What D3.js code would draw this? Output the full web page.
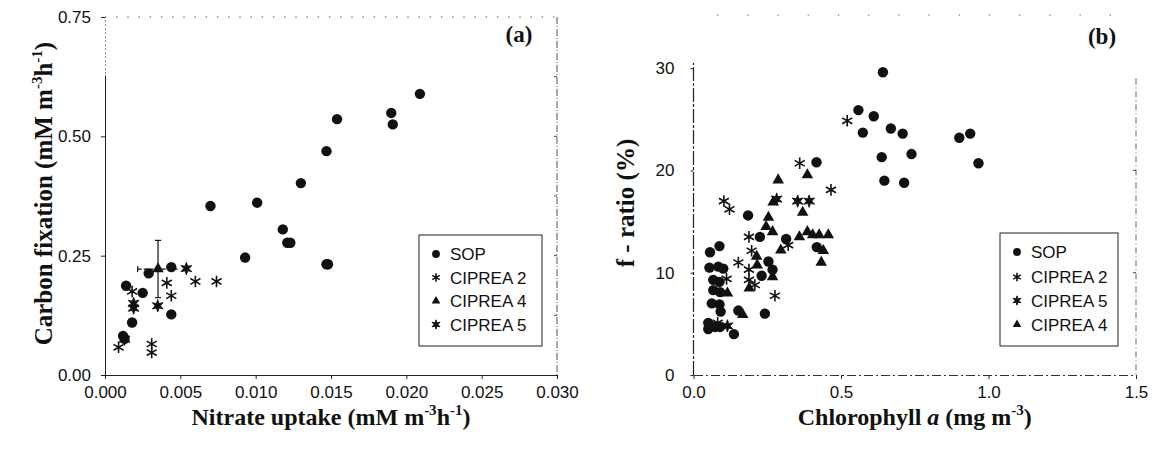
<!DOCTYPE html>
<html>
<head>
<meta charset="utf-8">
<script src="https://cdn.jsdelivr.net/npm/d3@7"></script>
<style>
    body { margin: 0; background: #fff; }
    .tick text { font-family: "Liberation Sans", Arial, sans-serif; font-size: 17px; fill: #111; }
    .title { font-family: "Liberation Serif", "Times New Roman", serif; font-weight: bold; font-size: 24px; fill: #111; }
    .legend text { font-family: "Liberation Sans", Arial, sans-serif; font-size: 17px; fill: #111; }
</style>
</head>
<body>
<svg id="chart" width="1159" height="450"></svg>
<script>

// ---- panel (a): nitrate uptake vs carbon fixation
var sopNitrate = [0.0209, 0.0190, 0.0191, 0.0154, 0.0147, 0.0130, 0.0101, 0.0070, 0.0118, 0.0121, 0.0123,
    0.0093, 0.0147, 0.0148, 0.0044, 0.0029, 0.0014, 0.0025, 0.0044, 0.0018, 0.0012, 0.0013]
var sopCarbon = [0.589, 0.549, 0.525, 0.536, 0.469, 0.402, 0.361, 0.354, 0.305, 0.277, 0.277,
    0.246, 0.232, 0.232, 0.226, 0.213, 0.187, 0.172, 0.127, 0.110, 0.082, 0.076]
var c2Nitrate = [0.0009, 0.0018, 0.0041, 0.0044, 0.0060, 0.0074, 0.0031, 0.0031]
var c2Carbon = [0.058, 0.175, 0.193, 0.166, 0.196, 0.196, 0.065, 0.047]
var c4Nitrate = [0.00352]
var c4Carbon = [0.222]
var c4NitrateErr = [0.00135]
var c4CarbonErr = [0.060]
var c5Nitrate = [0.0054, 0.0019, 0.0019, 0.0035, 0.0013]
var c5Carbon = [0.223, 0.150, 0.140, 0.145, 0.075]

var xTicksA = [0, 0.005, 0.010, 0.015, 0.020, 0.025, 0.030]
var yTicksA = [0, 0.25, 0.50, 0.75]

// ---- panel (b): chlorophyll a vs f-ratio
var sopChl = [0.642, 0.559, 0.611, 0.574, 0.669, 0.709, 0.901, 0.938, 0.638, 0.739, 0.966, 0.647, 0.714, 0.417,
    0.185, 0.225, 0.314, 0.418, 0.088, 0.056, 0.054, 0.084, 0.101, 0.254, 0.268, 0.231, 0.067, 0.088,
    0.067, 0.090, 0.062, 0.088, 0.092, 0.152, 0.242, 0.050, 0.050, 0.073, 0.090, 0.137]
var sopF = [29.6, 25.9, 25.3, 23.7, 24.1, 23.6, 23.2, 23.6, 21.3, 21.6, 20.7, 19.0, 18.8, 20.8,
    15.6, 13.5, 13.3, 12.5, 12.6, 12.0, 10.5, 10.6, 10.4, 11.1, 10.3, 9.7, 9.3, 9.1,
    8.3, 8.1, 7.0, 6.9, 6.2, 6.3, 6.0, 5.1, 4.5, 4.7, 4.7, 4.0]
var c2Chl = [0.521, 0.360, 0.466, 0.103, 0.122, 0.188, 0.197, 0.152, 0.188, 0.188, 0.208, 0.276, 0.321, 0.112, 0.082]
var c2F = [24.85, 20.7, 18.1, 17.0, 16.2, 13.5, 12.15, 11.0, 10.3, 9.3, 8.8, 7.75, 12.7, 9.4, 5.1]
var c5Chl = [0.282, 0.353, 0.392, 0.115]
var c5F = [17.2, 17.0, 17.0, 4.8]
var c4Chl = [0.287, 0.386, 0.254, 0.370, 0.246, 0.268, 0.386, 0.404, 0.426, 0.457, 0.359, 0.296, 0.440,
    0.433, 0.214, 0.216, 0.268, 0.189, 0.115, 0.167, 0.270]
var c4F = [19.06, 19.55, 15.4, 15.9, 14.5, 14.0, 14.0, 13.7, 13.7, 13.7, 13.5, 12.2, 12.15,
    11.0, 11.6, 10.75, 9.6, 8.5, 8.0, 5.9, 16.9]

var xTicksB = [0, 0.5, 1.0, 1.5]
var yTicksB = [0, 10, 20, 30]

var ink = "#111"
var svg = d3.select("#chart")

var xA = d3.scaleLinear().domain([0, 0.03]).range([105, 557])
var yA = d3.scaleLinear().domain([0, 0.75]).range([375, 17])
var xB = d3.scaleLinear().domain([0, 1.5]).range([693.5, 1136])
var yB = d3.scaleLinear().domain([0, 35]).range([375, 17])

function asterisk(r) {
    var p = ""
    for (var i = 0; i < 3; i++) {
        var a = Math.PI / 2 + i * Math.PI / 3
        var dx = r * Math.cos(a), dy = r * Math.sin(a)
        p += "M" + (-dx) + "," + (-dy) + "L" + dx + "," + dy
    }
    return p
}

function star6(r) {
    var pts = []
    for (var i = 0; i < 12; i++) {
        var a = -Math.PI / 2 + i * Math.PI / 6
        var rr = i % 2 ? r * 0.42 : r
        pts.push([rr * Math.cos(a), rr * Math.sin(a)])
    }
    return "M" + pts.join("L") + "Z"
}

function marker(sel, kind, scale) {
    if (kind == "circle") {
        sel.attr("d", d3.symbol(d3.symbolCircle, 85 * scale * scale)()).attr("fill", ink)
    } else if (kind == "triangle") {
        sel.attr("d", d3.symbol(d3.symbolTriangle, 58 * scale * scale)()).attr("fill", ink)
    } else if (kind == "asterisk") {
        sel.attr("d", asterisk(5.8 * scale)).attr("fill", "none").attr("stroke", ink).attr("stroke-width", 1.6)
    } else {
        sel.attr("d", star6(6.2 * scale)).attr("fill", ink).attr("stroke", ink).attr("stroke-width", 0.9)
    }
}

function drawPoints(g, xs, ys, x, y, kind) {
    g.append("g")
        .selectAll("path")
        .data(xs.map(function (d, i) { return [d, ys[i]] }))
        .enter()
        .append("path")
        .attr("transform", function (d) { return "translate(" + x(d[0]) + "," + y(d[1]) + ")" })
        .call(marker, kind, 1)
}

function drawLegend(g, x0, y0, w, h, items, rows, mx, tx) {
    var lg = g.append("g").attr("class", "legend")
    lg.append("rect")
        .attr("x", x0).attr("y", y0).attr("width", w).attr("height", h)
        .attr("fill", "#fff").attr("stroke", "#222").attr("stroke-width", 1)
    items.forEach(function (it, i) {
        lg.append("path")
            .attr("transform", "translate(" + mx + "," + rows[i] + ")")
            .call(marker, it.kind, 0.75)
        lg.append("text")
            .attr("x", tx).attr("y", rows[i]).attr("dy", "0.36em")
            .text(it.label)
    })
}

function drawFrame(x, y, xTicks, yTicks, xFmt, yFmt, xPad, yPad, yTickSize) {
    var g = svg.append("g")
    var xAxis = g.append("g")
        .attr("transform", "translate(0," + y.range()[0] + ")")
        .call(d3.axisBottom(x).tickValues(xTicks).tickFormat(d3.format(xFmt))
            .tickSize(4).tickSizeOuter(0).tickPadding(xPad))
    var yAxis = g.append("g")
        .attr("transform", "translate(" + x.range()[0] + ",0)")
        .call(d3.axisLeft(y).tickValues(yTicks).tickFormat(d3.format(yFmt))
            .tickSize(yTickSize).tickSizeOuter(0).tickPadding(yPad))
    g.selectAll(".domain, .tick line").attr("stroke", "#222")
    return { g: g, xAxis: xAxis, yAxis: yAxis }
}

// ---- panel (a)
var fa = drawFrame(xA, yA, xTicksA, yTicksA, ".3f", ".2f", 7, 10, 4)
fa.yAxis.select(".domain").attr("stroke-dasharray", "300,2,1,3,1,3,1,3,1,3,1,3,1,3,1,3,1,3,1,3,1,3,1,3,1,3,1,3,1,3")

fa.g.append("line")
    .attr("x1", xA(0)).attr("x2", xA(0.03))
    .attr("y1", yA(0.75)).attr("y2", yA(0.75))
    .attr("stroke", "#444").attr("stroke-width", 1.2).attr("stroke-dasharray", "1.2,10")
fa.g.append("line")
    .attr("x1", xA(0.03)).attr("x2", xA(0.03))
    .attr("y1", yA(0.75)).attr("y2", yA(0))
    .attr("stroke", "#555").attr("stroke-width", 1).attr("stroke-dasharray", "7,2,1,2")
fa.g.append("g")
    .selectAll("line")
    .data([0.125, 0.25, 0.375, 0.5, 0.625])
    .enter()
    .append("line")
    .attr("x1", xA(0.03) - 3).attr("x2", xA(0.03))
    .attr("y1", function (d) { return yA(d) }).attr("y2", function (d) { return yA(d) })
    .attr("stroke", "#444")

var pa = svg.append("g")
drawPoints(pa, sopNitrate, sopCarbon, xA, yA, "circle")
drawPoints(pa, c2Nitrate, c2Carbon, xA, yA, "asterisk")
drawPoints(pa, c5Nitrate, c5Carbon, xA, yA, "star")

// CIPREA 4 mean with error bars
c4Nitrate.forEach(function (d, i) {
    var cx = xA(d), cy = yA(c4Carbon[i])
    var top = yA(c4Carbon[i] + c4CarbonErr[i]), bot = yA(c4Carbon[i] - c4CarbonErr[i])
    var left = xA(d - c4NitrateErr[i]), right = xA(d + c4NitrateErr[i])
    pa.append("line").attr("x1", cx).attr("x2", cx).attr("y1", top).attr("y2", bot)
        .attr("stroke", ink).attr("stroke-width", 1.2)
    pa.append("line").attr("x1", cx - 3).attr("x2", cx + 3).attr("y1", top).attr("y2", top)
        .attr("stroke", ink).attr("stroke-width", 1.2)
    pa.append("line").attr("x1", cx - 3).attr("x2", cx + 3).attr("y1", bot).attr("y2", bot)
        .attr("stroke", ink).attr("stroke-width", 1.2)
    pa.append("line").attr("x1", left).attr("x2", right).attr("y1", cy).attr("y2", cy)
        .attr("stroke", ink).attr("stroke-width", 1.2).attr("stroke-dasharray", "4,2")
    pa.append("line").attr("x1", left).attr("x2", left).attr("y1", cy - 3).attr("y2", cy + 3)
        .attr("stroke", ink).attr("stroke-width", 1.2)
})
drawPoints(pa, c4Nitrate, c4Carbon, xA, yA, "triangle")

drawLegend(svg, 419, 235, 123, 111, [
    { label: "SOP", kind: "circle" },
    { label: "CIPREA 2", kind: "asterisk" },
    { label: "CIPREA 4", kind: "triangle" },
    { label: "CIPREA 5", kind: "star" }
], [254, 277.5, 301, 324.5], 436, 450)

svg.append("text").attr("class", "title").attr("x", 519).attr("y", 42)
    .attr("text-anchor", "middle").style("font-size", "23px").text("(a)")

var tA = svg.append("text").attr("class", "title")
    .attr("x", xA(0.015)).attr("y", 425).attr("text-anchor", "middle")
tA.append("tspan").text("Nitrate uptake (mM m")
tA.append("tspan").attr("dy", -10).style("font-size", "15px").text("-3")
tA.append("tspan").attr("dy", 10).text("h")
tA.append("tspan").attr("dy", -10).style("font-size", "15px").text("-1")
tA.append("tspan").attr("dy", 10).text(")")

var yTA = svg.append("text").attr("class", "title")
    .attr("transform", "translate(52," + yA(0.38) + ") rotate(-90)").attr("text-anchor", "middle")
    .style("font-size", "25px")
yTA.append("tspan").text("Carbon fixation (mM m")
yTA.append("tspan").attr("dy", -10).style("font-size", "15px").text("-3")
yTA.append("tspan").attr("dy", 10).text("h")
yTA.append("tspan").attr("dy", -10).style("font-size", "15px").text("-1")
yTA.append("tspan").attr("dy", 10).text(")")

// ---- panel (b)
var fb = drawFrame(xB, yB, xTicksB, yTicksB, ".1f", "d", 7, 16, 3)
fb.xAxis.select(".domain").attr("stroke", "#333").attr("stroke-dasharray", "9,3,2,3")
fb.yAxis.select(".domain").attr("stroke", "none")

fb.g.append("line")
    .attr("x1", xB(0)).attr("x2", xB(0))
    .attr("y1", yB(0)).attr("y2", yB(30.5))
    .attr("stroke", "#222").attr("stroke-width", 1.2).attr("stroke-dasharray", "14,2,3,2")
fb.g.append("line")
    .attr("x1", xB(0.08)).attr("x2", xB(1.43))
    .attr("y1", 15).attr("y2", 15)
    .attr("stroke", "#555").attr("stroke-width", 1.2).attr("stroke-dasharray", "1.2,29")
fb.g.append("line")
    .attr("x1", xB(1.5)).attr("x2", xB(1.5))
    .attr("y1", yB(29)).attr("y2", yB(0))
    .attr("stroke", "#666").attr("stroke-width", 1).attr("stroke-dasharray", "6,3,1,3")
fb.g.append("g")
    .selectAll("line")
    .data([10, 20])
    .enter()
    .append("line")
    .attr("x1", xB(1.5) - 3).attr("x2", xB(1.5))
    .attr("y1", function (d) { return yB(d) }).attr("y2", function (d) { return yB(d) })
    .attr("stroke", "#444")

var pb = svg.append("g")
drawPoints(pb, sopChl, sopF, xB, yB, "circle")
drawPoints(pb, c4Chl, c4F, xB, yB, "triangle")
drawPoints(pb, c2Chl, c2F, xB, yB, "asterisk")
drawPoints(pb, c5Chl, c5F, xB, yB, "star")

drawLegend(svg, 1000, 233, 118, 113, [
    { label: "SOP", kind: "circle" },
    { label: "CIPREA 2", kind: "asterisk" },
    { label: "CIPREA 5", kind: "star" },
    { label: "CIPREA 4", kind: "triangle" }
], [252, 277, 300.5, 324.5], 1017, 1031)

svg.append("text").attr("class", "title").attr("x", 1102).attr("y", 44)
    .attr("text-anchor", "middle").style("font-size", "23px").text("(b)")

var tB = svg.append("text").attr("class", "title")
    .attr("x", xB(0.75)).attr("y", 425).attr("text-anchor", "middle")
tB.append("tspan").text("Chlorophyll ")
tB.append("tspan").style("font-style", "italic").text("a")
tB.append("tspan").text(" (mg m")
tB.append("tspan").attr("dy", -10).style("font-size", "15px").text("-3")
tB.append("tspan").attr("dy", 10).text(")")

svg.append("text").attr("class", "title")
    .attr("transform", "translate(634,203) rotate(-90)").attr("text-anchor", "middle")
    .style("font-size", "25px")
    .text("f - ratio (%)")

</script>
</body>
</html>
